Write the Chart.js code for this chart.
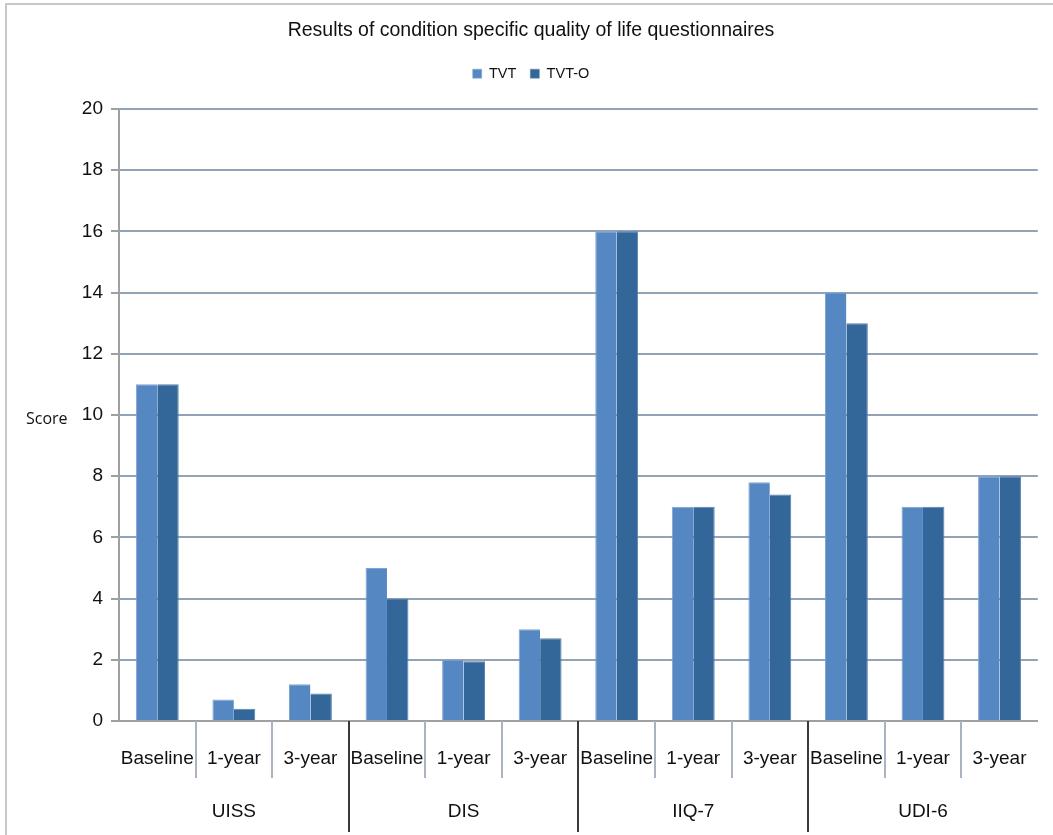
<!DOCTYPE html>
<html>
<head>
<meta charset="utf-8">
<script src="https://cdn.jsdelivr.net/npm/chart.js@4.4.1/dist/chart.umd.min.js"></script>
<style>
  html, body { margin: 0; padding: 0; background: #fff; }
  #wrap { width: 1053px; height: 835px; }
</style>
</head>
<body>
<div id="wrap"><canvas id="c" width="1053" height="835"></canvas></div>
<script>
// data
const groups = ["UISS", "DIS", "IIQ-7", "UDI-6"];
const periods = ["Baseline", "1-year", "3-year"];
const tvt  = [11, 0.7, 1.2,  5, 2, 3,    16, 7, 7.8,  14, 7, 8];
const tvtO = [11, 0.4, 0.9,  4, 1.95, 2.7, 16, 7, 7.4, 13, 7, 8];
const yTicks = [0, 2, 4, 6, 8, 10, 12, 14, 16, 18, 20];

const labels = [];
groups.forEach(g => periods.forEach(p => labels.push(p)));

// extra room below the legend
const legendGap = {
    id: 'legendGap',
    beforeInit(chart) {
        const fit = chart.legend.fit;
        chart.legend.fit = function() {
            fit.call(this);
            this.height += 18;
        };
    }
};

// separators, group names, Score label and outer frame
const extras = {
    id: 'extras',
    afterDraw(chart) {
        const ctx = chart.ctx;
        const x = chart.scales.x;
        const area = chart.chartArea;
        const n = labels.length;
        const step = (area.right - area.left) / n;
        ctx.save();
        // frame
        ctx.strokeStyle = '#c8c8c8';
        ctx.lineWidth = 2;
        ctx.beginPath();
        ctx.moveTo(6, 835);
        ctx.lineTo(6, 4);
        ctx.lineTo(1053, 4);
        ctx.stroke();
        for (let i = 1; i < n; i++) {
            const px = Math.round(x.getPixelForValue(i) - step / 2);
            ctx.beginPath();
            if (i % periods.length == 0) {
                ctx.strokeStyle = '#3a3a3a';
                ctx.lineWidth = 2;
                ctx.moveTo(px, area.bottom);
                ctx.lineTo(px, area.bottom + 111);
            } else {
                ctx.strokeStyle = '#a9b4c2';
                ctx.lineWidth = 2;
                ctx.moveTo(px, area.bottom);
                ctx.lineTo(px, area.bottom + 57);
            }
            ctx.stroke();
        }
        ctx.fillStyle = '#111';
        ctx.font = '19px "Liberation Sans", Arial, sans-serif';
        ctx.textAlign = 'center';
        ctx.textBaseline = 'middle';
        groups.forEach((g, gi) => {
            const cx = x.getPixelForValue(gi * periods.length + 1);
            ctx.fillText(g, cx, area.bottom + 91);
        });
        ctx.font = '16px "Open Sans", sans-serif';
        ctx.textAlign = 'left';
        ctx.fillText('Score', 26, (area.top + area.bottom) / 2 + 4);
        ctx.restore();
    }
};

new Chart(document.getElementById('c'), {
    type: 'bar',
    data: {
        labels: labels,
        datasets: [
            { label: 'TVT', data: tvt, backgroundColor: '#5588c3', borderColor: '#7fa3d2', borderWidth: { top: 1, right: 0, left: 1, bottom: 0 } },
            { label: 'TVT-O', data: tvtO, backgroundColor: '#336799', borderColor: '#5a82ad', borderWidth: { top: 1, right: 1, left: 0, bottom: 0 } }
        ]
    },
    options: {
        responsive: false,
        animation: false,
        layout: { padding: { top: 8, right: 13, left: 22, bottom: 0 } },
        datasets: { bar: { categoryPercentage: 0.56, barPercentage: 1.0 } },
        plugins: {
            title: {
                display: true,
                text: 'Results of condition specific quality of life questionnaires',
                color: '#111',
                font: { family: '"Liberation Sans", Arial, sans-serif', size: 19.5, weight: 'normal' },
                padding: { top: 11, bottom: 10 }
            },
            legend: {
                display: true,
                labels: {
                    color: '#111',
                    font: { family: '"Liberation Sans", Arial, sans-serif', size: 14.5 },
                    boxWidth: 9, boxHeight: 9, padding: 14
                }
            },
            tooltip: { enabled: false }
        },
        scales: {
            x: {
                grid: { display: false, drawTicks: false },
                border: { display: true, color: '#a0a0a0', width: 2 },
                ticks: {
                    color: '#111',
                    font: { family: '"Liberation Sans", Arial, sans-serif', size: 19 },
                    maxRotation: 0, autoSkip: false, padding: 26
                },
                afterFit(scale) { scale.height = 114; }
            },
            y: {
                min: 0, max: 20,
                afterBuildTicks(scale) { scale.ticks = yTicks.map(v => ({ value: v })); },
                grid: { color: '#93a3b7', lineWidth: 2, tickLength: 8, tickColor: '#a0a0a0' },
                border: { display: true, color: '#a0a0a0', width: 2 },
                ticks: {
                    color: '#111',
                    font: { family: '"Liberation Sans", Arial, sans-serif', size: 19 },
                    padding: 8
                },
                afterFit(scale) { scale.width = 97; }
            }
        }
    },
    plugins: [legendGap, extras]
});
</script>
</body>
</html>
